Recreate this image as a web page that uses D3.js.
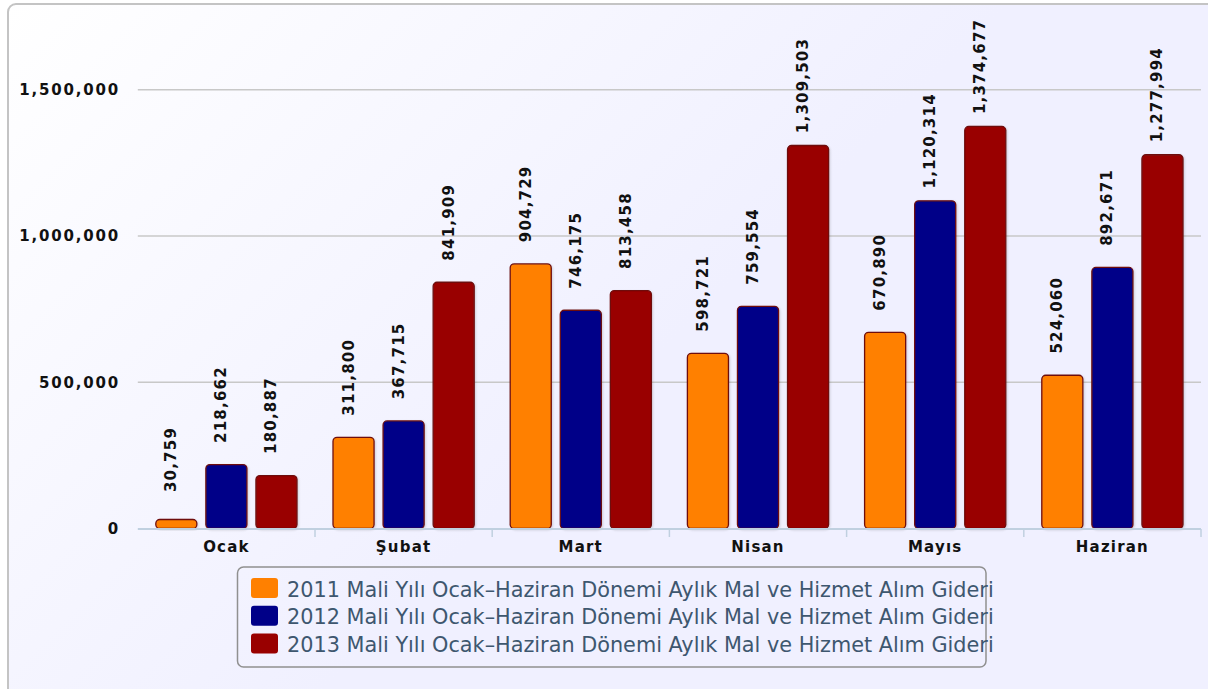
<!DOCTYPE html>
<html>
<head>
<meta charset="utf-8">
<script src="https://cdn.jsdelivr.net/npm/d3@7"></script>
<style>
  html, body { margin: 0; padding: 0; background: #fff; }
  svg { display: block; }
</style>
</head>
<body>
<div id="chart"></div>
<script>
const categories = ["Ocak", "Şubat", "Mart", "Nisan", "Mayıs", "Haziran"];
const seriesNames = [
    "2011 Mali Yılı Ocak–Haziran Dönemi Aylık Mal ve Hizmet Alım Gideri",
    "2012 Mali Yılı Ocak–Haziran Dönemi Aylık Mal ve Hizmet Alım Gideri",
    "2013 Mali Yılı Ocak–Haziran Dönemi Aylık Mal ve Hizmet Alım Gideri",
];
const values2011 = [30759, 311800, 904729, 598721, 670890, 524060];
const values2012 = [218662, 367715, 746175, 759554, 1120314, 892671];
const values2013 = [180887, 841909, 813458, 1309503, 1374677, 1277994];
const yTicks = [0, 500000, 1000000, 1500000];
const colori = ["#ff8000", "#000088", "#990000"];

const paintChart = () => {
    const width = 1208, height = 689;
    const fmt = d3.format(",");
    const series = [values2011, values2012, values2013];

    const svg = d3.select("#chart").append("svg")
        .attr("width", width)
        .attr("height", height);

    const defs = svg.append("defs");
    const grad = defs.append("linearGradient")
        .attr("id", "bg")
        .attr("gradientUnits", "userSpaceOnUse")
        .attr("x1", 8).attr("y1", 4).attr("x2", 508).attr("y2", 504);
    grad.append("stop").attr("offset", 0).attr("stop-color", "rgb(255,255,255)");
    grad.append("stop").attr("offset", 1).attr("stop-color", "rgb(240,240,255)");

    const shadow = defs.append("filter").attr("id", "shadow")
        .attr("x", "-20%").attr("y", "-20%").attr("width", "140%").attr("height", "140%");
    shadow.append("feDropShadow")
        .attr("dx", 1).attr("dy", 1).attr("stdDeviation", 1)
        .attr("flood-color", "#000").attr("flood-opacity", 0.15);

    // container
    svg.append("rect")
        .attr("x", 8).attr("y", 4)
        .attr("width", 1240).attr("height", 720)
        .attr("rx", 8)
        .attr("fill", "url(#bg)")
        .attr("stroke", "#c4c4c4")
        .attr("stroke-width", 2);

    const x = d3.scaleBand()
        .domain(categories)
        .range([137.8, 1201])
        .padding(0);

    const xs = d3.scaleBand()
        .domain([0, 1, 2])
        .range([18, x.bandwidth() - 18])
        .paddingInner(0.18);

    const y = d3.scaleLinear()
        .domain([0, 1500000])
        .range([528.5, 89.8]);

    // gridlines
    svg.append("g")
        .selectAll("line")
        .data(yTicks.filter(d => d > 0))
        .join("line")
        .attr("x1", 137.8).attr("x2", 1201)
        .attr("y1", d => y(d)).attr("y2", d => y(d))
        .attr("stroke", "#c8c8c8")
        .attr("stroke-width", 1.5);

    // y labels
    svg.append("g")
        .selectAll("text")
        .data(yTicks)
        .join("text")
        .attr("x", 120)
        .attr("y", d => y(d))
        .attr("dy", "0.35em")
        .attr("text-anchor", "end")
        .attr("font-family", "DejaVu Sans")
        .attr("font-weight", "bold")
        .attr("font-size", 15)
        .attr("letter-spacing", 1.8)
        .attr("fill", "#111")
        .text(d => fmt(d));

    // bars
    const groups = svg.append("g")
        .selectAll("g")
        .data(categories)
        .join("g")
        .attr("transform", d => `translate(${x(d)},0)`);

    groups.selectAll("rect")
        .data((c, i) => series.map((s, k) => ({ k, v: s[i] })))
        .join("rect")
        .attr("x", d => xs(d.k))
        .attr("y", d => y(d.v))
        .attr("width", xs.bandwidth())
        .attr("height", d => y(0) - y(d.v))
        .attr("rx", 4)
        .attr("fill", d => colori[d.k])
        .attr("stroke", "#6e1010")
        .attr("stroke-width", 1.3)
        .attr("filter", "url(#shadow)");

    // x axis
    const ax = svg.append("g");
    ax.append("line")
        .attr("x1", 137.8).attr("x2", 1201)
        .attr("y1", 529).attr("y2", 529)
        .attr("stroke", "#c0d0e0")
        .attr("stroke-width", 2);
    ax.selectAll("line.tick")
        .data(categories)
        .join("line")
        .attr("class", "tick")
        .attr("x1", d => x(d) + x.bandwidth())
        .attr("x2", d => x(d) + x.bandwidth())
        .attr("y1", 529).attr("y2", 537)
        .attr("stroke", "#c0d0e0")
        .attr("stroke-width", 1.5);
    ax.selectAll("text")
        .data(categories)
        .join("text")
        .attr("x", d => x(d) + x.bandwidth() / 2)
        .attr("y", 552)
        .attr("text-anchor", "middle")
        .attr("font-family", "DejaVu Sans")
        .attr("font-weight", "bold")
        .attr("font-size", 15)
        .attr("letter-spacing", 1.2)
        .attr("fill", "#111")
        .text(d => d);

    // data labels
    groups.selectAll("text")
        .data((c, i) => series.map((s, k) => ({ k, v: s[i] })))
        .join("text")
        .attr("transform", d => `translate(${xs(d.k) + xs.bandwidth() / 2},${y(d.v) - 60}) rotate(-90)`)
        .attr("text-anchor", "middle")
        .attr("font-family", "DejaVu Sans")
        .attr("font-weight", "bold")
        .attr("font-size", 15)
        .attr("letter-spacing", 1.2)
        .attr("fill", "#111")
        .text(d => fmt(d.v));

    // legend
    const lg = svg.append("g");
    lg.append("rect")
        .attr("x", 237.5).attr("y", 567)
        .attr("width", 748.5).attr("height", 100)
        .attr("rx", 6)
        .attr("fill", "none")
        .attr("stroke", "#909090")
        .attr("stroke-width", 1.5);
    const items = lg.selectAll("g")
        .data(seriesNames)
        .join("g")
        .attr("transform", (d, i) => `translate(0,${i * 27.8})`);
    items.append("rect")
        .attr("x", 251).attr("y", 578)
        .attr("width", 27).attr("height", 20)
        .attr("rx", 3)
        .attr("fill", (d, i) => colori[i]);
    items.append("text")
        .attr("x", 287).attr("y", 596.5)
        .attr("font-family", "DejaVu Sans")
        .attr("font-size", 20.8)
        .attr("fill", "#3e576f")
        .text(d => d);
};

document.addEventListener("DOMContentLoaded", paintChart);
</script>
</body>
</html>
